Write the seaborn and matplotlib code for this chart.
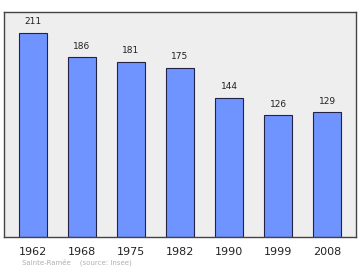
import matplotlib
matplotlib.use("Agg")
import matplotlib.pyplot as plt
import seaborn as sns
import pandas as pd

years = ["1962", "1968", "1975", "1982", "1990", "1999", "2008"]
population = [211, 186, 181, 175, 144, 126, 129]
footer = "Sainte-Ramée    (source: Insee)"

sns.set_theme(style="white")
plt.rcParams['font.family'] = ['DejaVu Sans']

df = pd.DataFrame({"year": years, "pop": population})

fig = plt.figure(figsize=(3.6, 2.7), dpi=100)
ax = fig.add_axes([4/360, 1 - 237/270, 352/360, 225/270])
ax.set_facecolor("#eeeeee")
sns.barplot(data=df, x="year", y="pop", ax=ax, color="#7094ff", saturation=1,
            width=0.57, edgecolor="#222244", linewidth=0.8)
ax.set_xlim(-0.59, 6.59)
ax.set_ylim(0, 233)
for i, v in enumerate(population):
    ax.text(i, v + 7, str(v), ha="center", va="bottom", fontsize=6.5, color="#222222")
ax.set_xlabel("")
ax.set_ylabel("")
ax.set_yticks([])
ax.tick_params(axis="x", length=0, pad=7, labelsize=8, colors="#222222")
for s in ax.spines.values():
    s.set_color("#444444")
    s.set_linewidth(1.0)
fig.text(22/360, 1 - 262/270, footer, fontsize=5, color="#b0b0b0", va="center")
fig.savefig("out.png", dpi=100)
